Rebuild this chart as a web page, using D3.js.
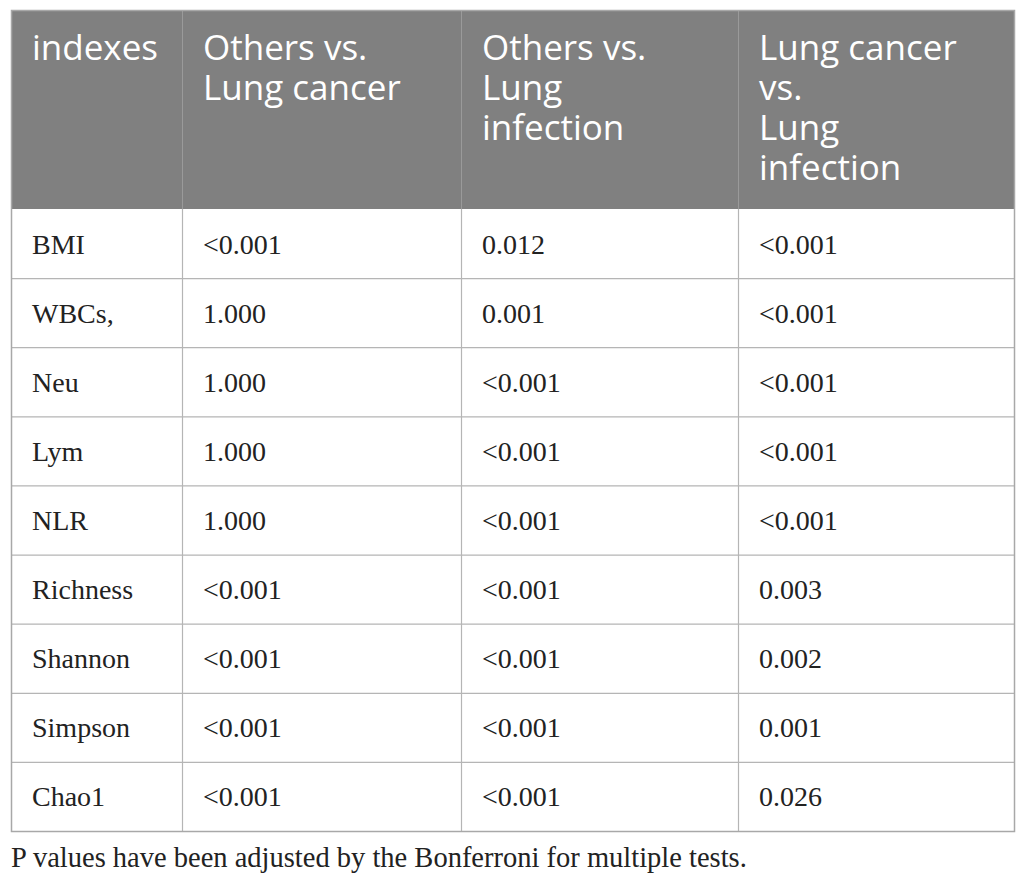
<!DOCTYPE html>
<html>
<head>
<meta charset="utf-8">
<script src="https://cdn.jsdelivr.net/npm/d3@7"></script>
<style>
  body { margin: 0; background: #fff; }
  .head-text { font-family: "Open Sans", sans-serif; font-size: 35px; fill: #fff; }
  .cell-text { font-family: "Liberation Serif", "Times New Roman", serif; font-size: 28px; fill: #222; }
  .note-text { font-family: "Liberation Serif", "Times New Roman", serif; font-size: 28.5px; fill: #222; }
</style>
</head>
<body>
<svg id="chart" width="1026" height="885"></svg>
<script>
// header lines per column
const headers = [
  ["indexes"],
  ["Others vs.", "Lung cancer"],
  ["Others vs.", "Lung", "infection"],
  ["Lung cancer", "vs.", "Lung", "infection"]
];
const indexes = ["BMI", "WBCs,", "Neu", "Lym", "NLR", "Richness", "Shannon", "Simpson", "Chao1"];
const othersVsCancer = ["<0.001", "1.000", "1.000", "1.000", "1.000", "<0.001", "<0.001", "<0.001", "<0.001"];
const othersVsInfection = ["0.012", "0.001", "<0.001", "<0.001", "<0.001", "<0.001", "<0.001", "<0.001", "<0.001"];
const cancerVsInfection = ["<0.001", "<0.001", "<0.001", "<0.001", "<0.001", "0.003", "0.002", "0.001", "0.026"];
const footnote = "P values have been adjusted by the Bonferroni for multiple tests.";

const svg = d3.select("#chart");

const colEdges = [11, 182, 461, 738, 1015];
const tableTop = 10;
const headBottom = 209;
const tableBottom = 831;
const padLeft = 21;

const rows = indexes.map((name, i) => [name, othersVsCancer[i], othersVsInfection[i], cancerVsInfection[i]]);

const y = d3.scaleBand()
  .domain(d3.range(rows.length))
  .range([headBottom, tableBottom]);

// header background
svg.append("rect")
  .attr("x", colEdges[0])
  .attr("y", tableTop)
  .attr("width", colEdges[4] - colEdges[0])
  .attr("height", headBottom - tableTop)
  .attr("fill", "#808080");

// header text, one text element per line
headers.forEach((lines, c) => {
  svg.selectAll(".head-" + c)
    .data(lines)
    .enter()
    .append("text")
    .classed("head-text", true)
    .attr("x", colEdges[c] + padLeft)
    .attr("y", (d, i) => 60 + i * 40)
    .text((d) => d);
});

// body rows
const rowGroups = svg.selectAll(".row")
  .data(rows)
  .enter()
  .append("g")
  .classed("row", true)
  .attr("transform", (d, i) => "translate(0," + y(i) + ")");

rowGroups.selectAll("text")
  .data((d) => d)
  .enter()
  .append("text")
  .classed("cell-text", true)
  .attr("x", (d, c) => colEdges[c] + padLeft)
  .attr("y", y.bandwidth() / 2 + 10)
  .text((d) => d);

// horizontal rules between body rows
svg.selectAll(".hline")
  .data(d3.range(1, rows.length))
  .enter()
  .append("line")
  .attr("x1", colEdges[0])
  .attr("x2", colEdges[4])
  .attr("y1", (i) => y(i) + 0.5)
  .attr("y2", (i) => y(i) + 0.5)
  .attr("stroke", "#b5b5b5")
  .attr("stroke-width", 1.2);

// vertical rules
svg.selectAll(".vline-head")
  .data(colEdges.slice(1, 4))
  .enter()
  .append("line")
  .attr("x1", (d) => d + 0.5)
  .attr("x2", (d) => d + 0.5)
  .attr("y1", tableTop)
  .attr("y2", headBottom)
  .attr("stroke", "#9a9a9a")
  .attr("stroke-width", 1);

svg.selectAll(".vline-body")
  .data(colEdges.slice(1, 4))
  .enter()
  .append("line")
  .attr("x1", (d) => d + 0.5)
  .attr("x2", (d) => d + 0.5)
  .attr("y1", headBottom)
  .attr("y2", tableBottom)
  .attr("stroke", "#b5b5b5")
  .attr("stroke-width", 1.2);

// outer border
svg.append("rect")
  .attr("x", colEdges[0] + 0.5)
  .attr("y", tableTop + 0.5)
  .attr("width", colEdges[4] - colEdges[0] - 1)
  .attr("height", tableBottom - tableTop)
  .attr("fill", "none")
  .attr("stroke", "#a8a8a8")
  .attr("stroke-width", 1.5);

svg.append("text")
  .classed("note-text", true)
  .attr("x", 11)
  .attr("y", 867)
  .text(footnote);
</script>
</body>
</html>
